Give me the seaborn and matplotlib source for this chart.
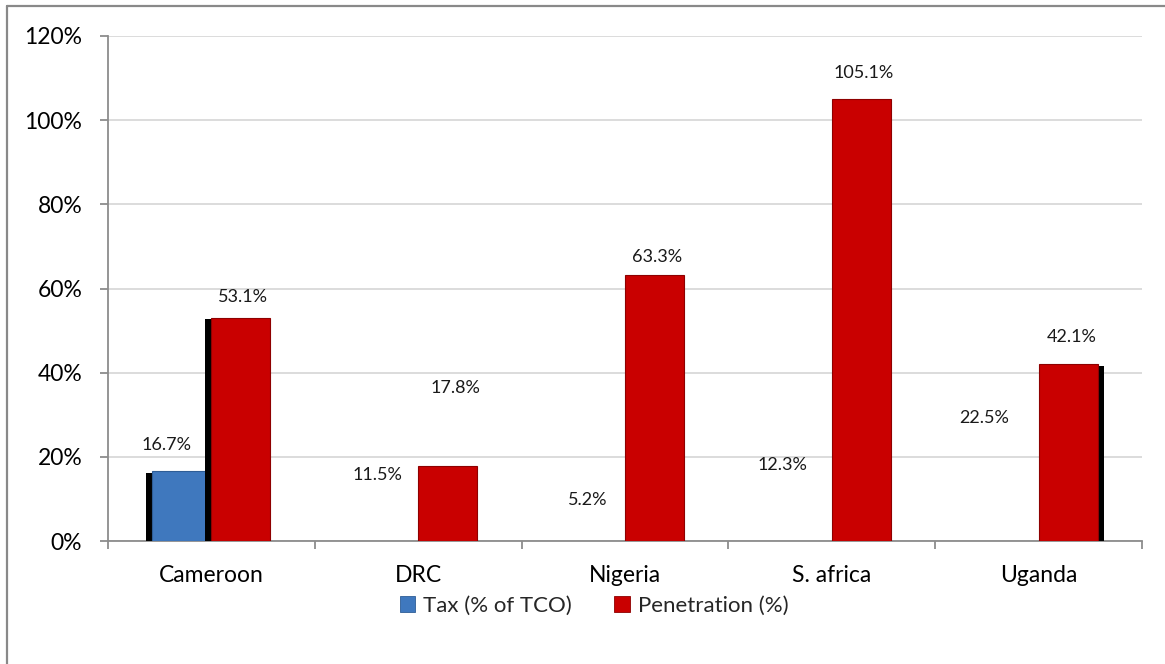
import matplotlib
matplotlib.use("Agg")
import matplotlib.pyplot as plt
import matplotlib.patheffects as pe
from matplotlib.patches import Patch
from matplotlib.lines import Line2D
from matplotlib.ticker import FixedLocator, FuncFormatter
import numpy as np
import pandas as pd
import seaborn as sns

# ---- data -------------------------------------------------------------
countries = ["Cameroon", "DRC", "Nigeria", "S. africa", "Uganda"]
tax_pct = [16.7, 11.5, 5.2, 12.3, 22.5]
penetration_pct = [53.1, 17.8, 63.3, 105.1, 42.1]
series_names = ["Tax (% of TCO)", "Penetration (%)"]
y_ticks = [0, 20, 40, 60, 80, 100, 120]

# label placement (pixel offsets from the top-centre of each bar)
tax_label_dx = [-15, -11, -8, -20, -25]
tax_label_dy = [26, 18, 19, 24, 28]
pen_label_dx = [2, 8, 3, 2, 4]
pen_label_dy = [21, 78, 18, 26, 27]

BLUE = "#3F78BE"
RED = "#C90000"

df = pd.DataFrame({
    "country": countries * 2,
    "series": [series_names[0]] * len(countries) + [series_names[1]] * len(countries),
    "value": tax_pct + penetration_pct,
})

sns.set_theme(style="white")
plt.rcParams["font.family"] = ["Lato", "DejaVu Sans"]

W, H = 1165, 664
fig = plt.figure(figsize=(W / 100, H / 100), dpi=100)
ax = fig.add_axes([108 / W, (H - 541) / H, 1034 / W, 505 / H])

sns.barplot(
    data=df, x="country", y="value", hue="series",
    order=countries, hue_order=series_names,
    palette=[BLUE, RED], saturation=1, width=0.57, gap=0,
    legend=False, ax=ax, zorder=3,
)

tax_bars, pen_bars = ax.containers[0], ax.containers[1]

# styling of individual bars
for i, bar in enumerate(tax_bars):
    if i == 0:
        bar.set_edgecolor("#2E5D96")
        bar.set_linewidth(0.8)
        bar.set_path_effects([
            pe.SimplePatchShadow(offset=(-4.3, -1.4), shadow_rgbFace="black", alpha=1),
            pe.Normal()])
    else:
        bar.set_facecolor("none")
        bar.set_edgecolor("none")

for i, bar in enumerate(pen_bars):
    bar.set_edgecolor("#8E0000")
    bar.set_linewidth(0.8)
    if i == 0:
        bar.set_path_effects([
            pe.SimplePatchShadow(offset=(-4.3, -1.4), shadow_rgbFace="black", alpha=1),
            pe.Normal()])
    elif i == len(pen_bars) - 1:
        bar.set_path_effects([
            pe.SimplePatchShadow(offset=(4.3, -1.4), shadow_rgbFace="black", alpha=1),
            pe.Normal()])

# value labels
def add_labels(bars, values, dxs, dys):
    for bar, v, dx, dy in zip(bars, values, dxs, dys):
        cx = bar.get_x() + bar.get_width() / 2
        ax.annotate(f"{v:.1f}%", xy=(cx, v), xytext=(dx, dy),
                    textcoords="offset pixels", ha="center", va="center",
                    fontsize=13, color="#1a1a1a", zorder=5)

add_labels(tax_bars, tax_pct, tax_label_dx, tax_label_dy)
add_labels(pen_bars, penetration_pct, pen_label_dx, pen_label_dy)

# axes
ax.set_ylim(0, 120)
ax.set_xlim(-0.5, len(countries) - 0.5)
ax.yaxis.set_major_locator(FixedLocator(y_ticks))
ax.yaxis.set_major_formatter(FuncFormatter(lambda v, _: f"{v:.0f}%"))
ax.set_xlabel("")
ax.set_ylabel("")

ax.yaxis.grid(True, color="#D9D9D9", linewidth=1.3, zorder=0)
ax.set_axisbelow(True)

for s in ["top", "right"]:
    ax.spines[s].set_visible(False)
for s in ["left", "bottom"]:
    ax.spines[s].set_color("#8C8C8C")
    ax.spines[s].set_linewidth(1.3)

ax.xaxis.set_minor_locator(FixedLocator(np.arange(-0.5, len(countries), 1)))
ax.tick_params(axis="x", which="major", length=0, pad=17, labelsize=16.5, labelcolor="black")
ax.tick_params(axis="x", which="minor", bottom=True, length=5.5, width=1.3, color="#8C8C8C")
ax.tick_params(axis="y", which="major", left=True, length=5.5, width=1.3, color="#8C8C8C",
               pad=13, labelsize=16.5, labelcolor="black")

# legend
handles = [Patch(facecolor=BLUE, edgecolor="#2E5D96", linewidth=0.6),
           Patch(facecolor=RED, edgecolor="#8E0000", linewidth=0.6)]
fig.legend(handles, series_names, loc="center", bbox_to_anchor=(594 / W, 1 - 606 / H),
           ncol=2, frameon=False, fontsize=16, handlelength=0.7, handleheight=0.7,
           handletextpad=0.35, columnspacing=1.9)

# outer frame: top and left edges
frame_kw = dict(transform=fig.transFigure, color="#898989", linewidth=1.6)
fig.add_artist(Line2D([7 / W, 1.0], [1 - 6 / H, 1 - 6 / H], **frame_kw))
fig.add_artist(Line2D([7 / W, 7 / W], [0.0, 1 - 6 / H], **frame_kw))

fig.savefig("out.png", dpi=100, facecolor="white")
